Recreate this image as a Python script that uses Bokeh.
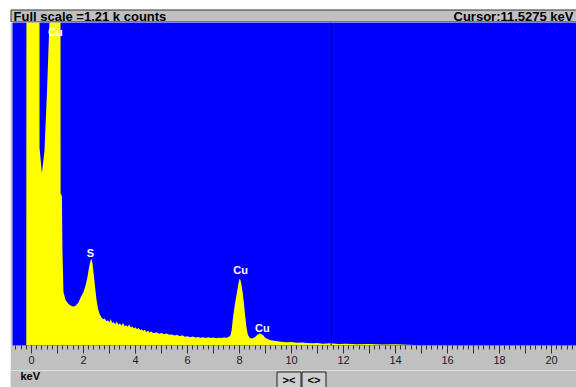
from bokeh.plotting import figure
from bokeh.models import Range1d, Label, Span, FixedTicker, ColumnDataSource, Spacer
from bokeh.layouts import column, row
from bokeh.core.properties import value
from bokeh.embed import file_html
from bokeh.resources import INLINE

# ---- data (energy in keV, counts) ----
energy_kev = [-0.73, -0.20, -0.19, 0.305, 0.31, 0.40, 0.50, 0.60, 0.69, 0.72,
              1.11, 1.12, 1.17, 1.19, 1.23, 1.31, 1.40, 1.50, 1.60, 1.69,
              1.80, 1.90, 2.00, 2.08, 2.15, 2.21, 2.27, 2.31, 2.35, 2.40,
              2.45, 2.50, 2.56, 2.62, 2.70, 2.76, 2.82, 2.88, 2.94, 3.00,
              3.05, 3.10, 3.16, 3.22, 3.28, 3.34, 3.40, 3.46, 3.52, 3.58,
              3.64, 3.70, 3.76, 3.82, 3.88, 3.94, 4.00, 4.06, 4.12, 4.18,
              4.24, 4.30, 4.36, 4.42, 4.48, 4.54, 4.60, 4.70, 4.80, 4.90,
              5.00, 5.10, 5.20, 5.30, 5.40, 5.50, 5.60, 5.70, 5.80, 5.90,
              6.00, 6.10, 6.20, 6.30, 6.40, 6.50, 6.60, 6.70, 6.80, 6.90,
              7.00, 7.10, 7.20, 7.30, 7.40, 7.50, 7.60, 7.66, 7.70, 7.75,
              7.80, 7.85, 7.90, 7.95, 8.00, 8.04, 8.08, 8.12, 8.17, 8.22,
              8.27, 8.32, 8.40, 8.50, 8.60, 8.70, 8.80, 8.90, 9.00, 9.10,
              9.20, 9.40, 9.60, 9.80, 10.0, 10.2, 10.4, 10.6, 10.8, 11.0,
              11.2, 11.5, 11.8, 12.1, 12.5, 13.0, 13.5, 14.0, 14.5, 15.0,
              16.0, 20.96]
counts = [0, 0, 2500, 2500, 740, 645, 730, 960, 1210, 2500,
          2500, 570, 560, 360, 200, 170, 158, 150, 146, 148,
          160, 182, 200, 225, 255, 290, 318, 324, 305, 262,
          215, 172, 138, 118, 104, 98, 101, 91, 95, 87,
          99, 84, 88, 80, 90, 78, 82, 75, 84, 72,
          76, 70, 79, 67, 71, 64, 68, 61, 66, 58,
          60, 55, 59, 51, 55, 49, 52, 46, 50, 44,
          47, 42, 45, 40, 41, 37, 40, 35, 38, 33,
          35, 31, 34, 30, 32, 29, 31, 28, 31, 28,
          30, 27, 29, 28, 30, 29, 33, 40, 60, 105,
          140, 170, 198, 228, 250, 244, 225, 200, 158, 110,
          68, 40, 28, 26, 32, 41, 45, 39, 28, 23,
          20, 17, 14, 12, 13, 10, 11, 9, 8, 9,
          7, 8, 6, 7, 5, 6, 4, 5, 3, 1,
          0, 0]

peak_labels = ["Cu", "S", "Cu", "Cu"]
peak_label_kev = [0.92, 2.27, 8.04, 8.88]
peak_label_counts = [1176, 348, 281, 67]

full_scale_counts = 1210
cursor_kev = 11.5275
x_start, x_end = -0.73, 20.96
label_ticks = list(range(0, 21))
header_texts = ["Full scale =%.2f k counts" % (full_scale_counts / 1000), "Cursor:%s keV" % cursor_kev]
button_texts = ["><", "<>"]

FONT = value("Liberation Sans")
GRAY = "#c0c0c0"


def deco_figure(h):
    f = figure(width=576, height=h, x_range=Range1d(0, 576), y_range=Range1d(h, 0),
               output_backend="svg", toolbar_location=None, title=None,
               x_axis_location=None, y_axis_location=None, min_border=0)
    f.background_fill_color = "white"
    f.border_fill_color = "white"
    f.outline_line_color = None
    f.grid.visible = False
    return f


# ---- header bar ----
header = deco_figure(22)
header.quad(left=[10.5], right=[590], top=[9.5], bottom=[21.5], fill_color=GRAY, line_color="#303030")
header.text(x=[13, 573], y=[15.5, 15.5], text=header_texts, text_font=FONT, text_font_size="13px",
            text_font_style="bold", text_color="black", text_align=["left", "right"],
            text_baseline="middle")

# ---- main spectrum ----
src = ColumnDataSource(dict(E=energy_kev, C=counts))
p = figure(width=566, height=348, output_backend="svg", toolbar_location=None,
           x_range=Range1d(x_start, x_end), y_range=Range1d(0, full_scale_counts),
           y_axis_location=None, title=None,
           min_border_left=2, min_border_right=0, min_border_top=0, min_border_bottom=25)
p.background_fill_color = "#0000ff"
p.border_fill_color = GRAY
p.outline_line_color = None
p.grid.visible = False

p.varea(x="E", y1=0, y2="C", source=src, fill_color="#ffff00")
p.add_layout(Span(location=cursor_kev, dimension="height", line_color="#000070", line_width=1))

for t, xk, yc in zip(peak_labels, peak_label_kev, peak_label_counts):
    p.add_layout(Label(x=xk, y=yc, text=t, text_color="white", text_font="Liberation Sans",
                       text_font_size="11px", text_font_style="bold",
                       text_align="center", text_baseline="middle"))

ax = p.xaxis[0]
ax.ticker = FixedTicker(ticks=label_ticks, minor_ticks=[round(-0.6 + 0.2 * i, 1) for i in range(109)])
ax.major_label_overrides = {k: (str(k) if k % 2 == 0 else "") for k in label_ticks}
ax.axis_line_color = None
ax.major_tick_in = 0
ax.major_tick_out = 8
ax.minor_tick_in = 0
ax.minor_tick_out = 4
ax.major_tick_line_color = "#303030"
ax.minor_tick_line_color = "#303030"
ax.major_label_text_font = "Liberation Sans"
ax.major_label_text_font_size = "11px"
ax.major_label_text_color = "#1a1a1a"
ax.major_label_standoff = 2

# ---- footer with unit and zoom buttons ----
footer = deco_figure(17)
footer.quad(left=[10], right=[590], top=[-1], bottom=[18], fill_color=GRAY, line_color=None)
footer.text(x=[20], y=[5.5], text=["keV"], text_font=FONT, text_font_size="11px",
            text_font_style="bold", text_color="black", text_align="left", text_baseline="middle")
footer.quad(left=[276.5, 301.5], right=[300.5, 325.5], top=[1.5, 1.5], bottom=[18, 18],
            fill_color="#cfcfcf", line_color="#202020")
footer.text(x=[288.5, 313.5], y=[9.5, 9.5], text=button_texts, text_font=FONT, text_font_size="11px",
            text_font_style="bold", text_color="black", text_align="center", text_baseline="middle")

layout = column(header, row(Spacer(width=10, height=348), p), footer)

open("out.html", "w").write(file_html(layout, INLINE))
